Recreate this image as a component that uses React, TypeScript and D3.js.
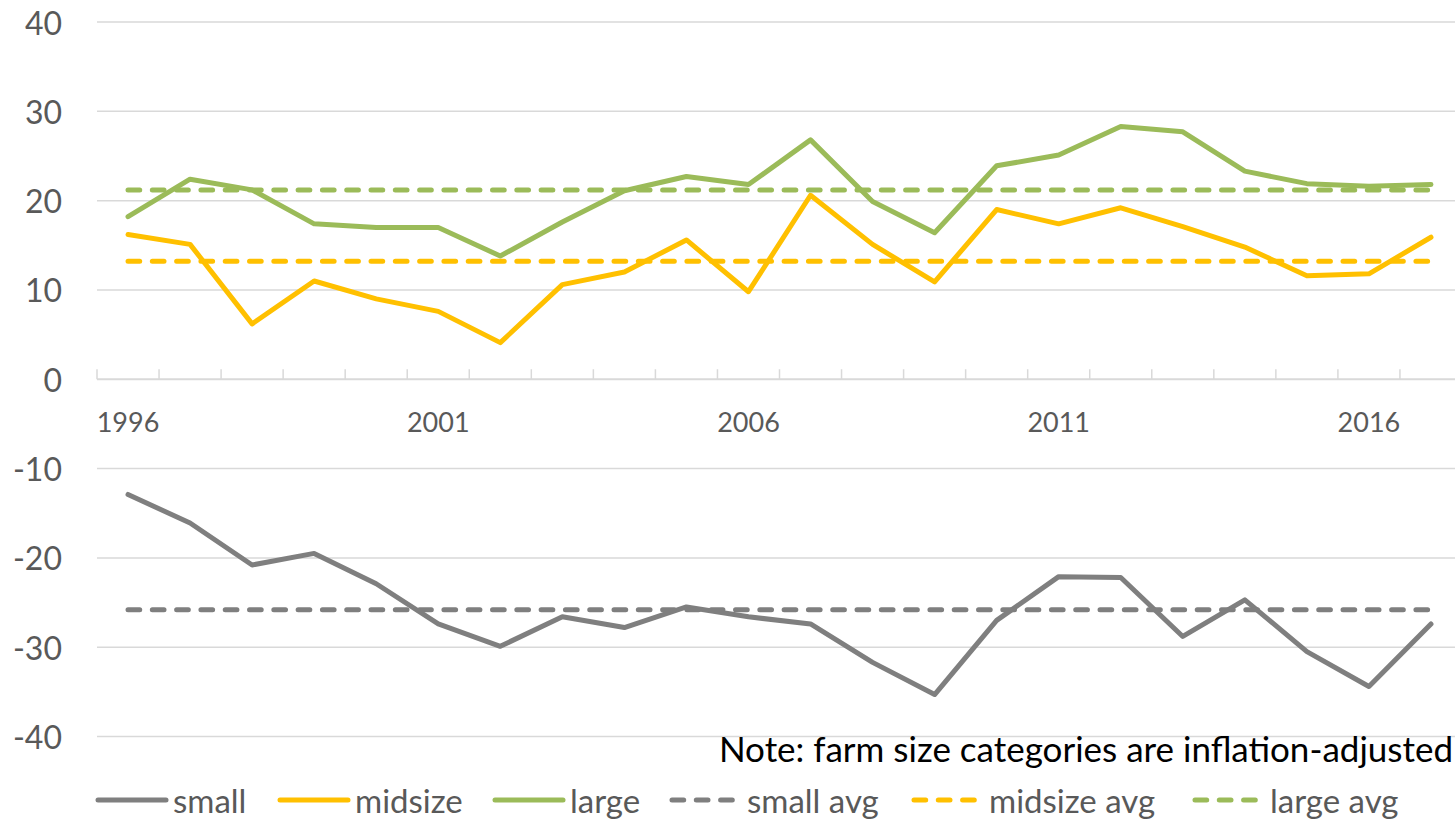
import React from "react";
import * as d3 from "d3";

// Annual values by farm size category
const years: number[] = [
  1996, 1997, 1998, 1999, 2000, 2001, 2002, 2003, 2004, 2005, 2006,
  2007, 2008, 2009, 2010, 2011, 2012, 2013, 2014, 2015, 2016, 2017,
];
const small: number[] = [
  -12.9, -16.1, -20.8, -19.5, -22.9, -27.4, -29.9, -26.6, -27.8, -25.5, -26.6,
  -27.4, -31.7, -35.3, -27.0, -22.1, -22.2, -28.8, -24.7, -30.5, -34.4, -27.4,
];
const midsize: number[] = [
  16.2, 15.1, 6.2, 11.0, 9.0, 7.6, 4.1, 10.6, 12.0, 15.6, 9.8,
  20.6, 15.1, 10.9, 19.0, 17.4, 19.2, 17.1, 14.8, 11.6, 11.8, 15.9,
];
const large: number[] = [
  18.2, 22.4, 21.2, 17.4, 17.0, 17.0, 13.8, 17.6, 21.1, 22.7, 21.8,
  26.8, 19.9, 16.4, 23.9, 25.1, 28.3, 27.7, 23.3, 21.9, 21.6, 21.8,
];
const smallAvg = -25.8;
const midsizeAvg = 13.2;
const largeAvg = 21.2;

const yTicks: number[] = [-40, -30, -20, -10, 0, 10, 20, 30, 40];
const yearLabels: number[] = [1996, 2001, 2006, 2011, 2016];
const note = "Note: farm size categories are inflation-adjusted";

const GRAY = "#7f7f7f";
const GOLD = "#ffc000";
const GREEN = "#9bbb59";
const TEXT = "#595959";
const GRID = "#d9d9d9";
const FONT = "Lato, 'Open Sans', sans-serif";

const W = 1455;
const H = 821;
const plotLeft = 97;
const plotRight = 1462;
const plotTop = 22;
const plotBottom = 736.5;

export default function App() {
  const x = d3
    .scaleBand<number>()
    .domain(years)
    .range([plotLeft, plotRight])
    .padding(0);
  const bw = x.bandwidth();
  const cx = (yr: number) => (x(yr) as number) + bw / 2;
  const y = d3.scaleLinear().domain([-40, 40]).range([plotBottom, plotTop]);

  const line = d3
    .line<number>()
    .x((_, i) => cx(years[i]))
    .y((d) => y(d));

  const solidSeries = [
    { key: "small", values: small, color: GRAY },
    { key: "midsize", values: midsize, color: GOLD },
    { key: "large", values: large, color: GREEN },
  ];
  const avgSeries = [
    { key: "small avg", value: smallAvg, color: GRAY },
    { key: "midsize avg", value: midsizeAvg, color: GOLD },
    { key: "large avg", value: largeAvg, color: GREEN },
  ];

  const lw = 5;
  const dash = "11.7 12.6";

  const legendItems = [
    { label: "small", color: GRAY, dashed: false, x0: 96 },
    { label: "midsize", color: GOLD, dashed: false, x0: 278 },
    { label: "large", color: GREEN, dashed: false, x0: 493 },
    { label: "small avg", color: GRAY, dashed: true, x0: 670 },
    { label: "midsize avg", color: GOLD, dashed: true, x0: 912 },
    { label: "large avg", color: GREEN, dashed: true, x0: 1193 },
  ];
  const legendY = 800;

  const boundaries = d3.range(years.length + 1).map((i) => plotLeft + i * bw);

  return (
    <svg
      width={W}
      height={H}
      style={{ position: "absolute", left: 0, top: 0, background: "#fff" }}
      fontFamily={FONT}
    >
      {/* horizontal gridlines */}
      {yTicks
        .filter((t) => t !== 0)
        .map((t) => (
          <line
            key={`g${t}`}
            x1={plotLeft}
            x2={plotRight}
            y1={y(t)}
            y2={y(t)}
            stroke={GRID}
            strokeWidth={1.5}
          />
        ))}
      {/* category axis at zero */}
      <line
        x1={plotLeft}
        x2={plotRight}
        y1={y(0)}
        y2={y(0)}
        stroke={GRID}
        strokeWidth={1.8}
      />
      {boundaries.map((bx, i) => (
        <line
          key={`t${i}`}
          x1={bx}
          x2={bx}
          y1={y(0) - 10}
          y2={y(0)}
          stroke={GRID}
          strokeWidth={1.5}
        />
      ))}

      {/* value axis labels */}
      {yTicks.map((t) => (
        <text
          key={`yl${t}`}
          x={62}
          y={y(t)}
          textAnchor="end"
          dominantBaseline="central"
          fontSize={32}
          fill={TEXT}
        >
          {t}
        </text>
      ))}

      {/* year labels */}
      {yearLabels.map((yr) => (
        <text
          key={`xl${yr}`}
          x={cx(yr)}
          y={421}
          textAnchor="middle"
          dominantBaseline="central"
          fontSize={27}
          fill={TEXT}
        >
          {yr}
        </text>
      ))}

      {/* series lines */}
      {solidSeries.map((s) => (
        <path
          key={s.key}
          d={line(s.values) || ""}
          fill="none"
          stroke={s.color}
          strokeWidth={lw}
          strokeLinejoin="round"
          strokeLinecap="round"
        />
      ))}
      {avgSeries.map((s) => (
        <path
          key={s.key}
          d={line(years.map(() => s.value)) || ""}
          fill="none"
          stroke={s.color}
          strokeWidth={lw}
          strokeDasharray={dash}
          strokeLinecap="round"
        />
      ))}

      {/* note */}
      <text
        x={1453}
        y={748}
        textAnchor="end"
        dominantBaseline="central"
        fontSize={35}
        fill="#000"
      >
        {note}
      </text>

      {/* legend */}
      {legendItems.map((it) => (
        <g key={it.label}>
          <line
            x1={it.x0 + 2}
            x2={it.x0 + 70}
            y1={legendY}
            y2={legendY}
            stroke={it.color}
            strokeWidth={lw}
            strokeLinecap="round"
            strokeDasharray={it.dashed ? dash : undefined}
          />
          <text
            x={it.x0 + 77}
            y={legendY}
            dominantBaseline="central"
            fontSize={33}
            fill={TEXT}
          >
            {it.label}
          </text>
        </g>
      ))}
    </svg>
  );
}
